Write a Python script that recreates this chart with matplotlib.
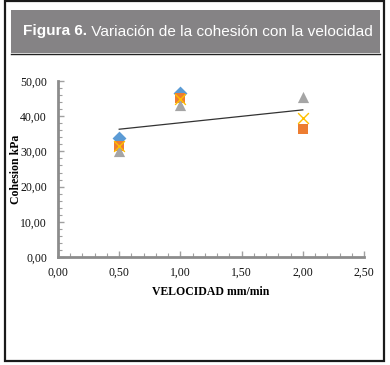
import numpy as np
import matplotlib
matplotlib.use("Agg")
import matplotlib.pyplot as plt
from matplotlib.patches import Rectangle
from matplotlib.ticker import MultipleLocator, FuncFormatter

# ========== 数据 ==========
velocidad = [0.5, 1.0, 2.0]
serie_diamante = [33.9, 46.5, None]
serie_cuadrado = [31.5, 45.1, 36.4]
serie_triangulo = [30.1, 43.2, 45.4]
serie_x = [31.5, 45.0, 39.4]
tendencia_x = [0.5, 2.0]
tendencia_y = [36.3, 41.8]

titulo_bold = "Figura 6."
titulo_resto = " Variación de la cohesión con la velocidad"

SERIF = ["Liberation Serif", "DejaVu Serif"]
SANS = ["Liberation Sans", "DejaVu Sans"]

fig = plt.figure(figsize=(3.9, 3.65), dpi=100)

# --- marco exterior y caja del título ---
fig.patches.append(Rectangle((5 / 390, 4 / 365), 379 / 390, 360 / 365, transform=fig.transFigure,
                             fill=False, edgecolor="#1a1a1a", linewidth=1.6))
fig.patches.append(Rectangle((11 / 390, 1 - 53 / 365), 369 / 390, 43 / 365, transform=fig.transFigure,
                             facecolor="#858385", edgecolor="none"))
fig.lines.append(plt.Line2D([11 / 390, 380 / 390], [1 - 53.5 / 365] * 2, transform=fig.transFigure,
                            color="#222222", linewidth=1.0))
t1 = fig.text(23 / 390, 1 - 31.5 / 365, titulo_bold, color="white", fontsize=11.1,
              fontweight="bold", family=SANS, va="center", ha="left")
fig.canvas.draw()
bb = t1.get_window_extent()
fig.text(bb.x1 / fig.bbox.width, 1 - 31.5 / 365, titulo_resto, color="white", fontsize=11.1,
         family=SANS, va="center", ha="left")

# --- ejes ---
ax = fig.add_axes([58 / 390, 1 - 257 / 365, 306 / 390, 176 / 365])
ax.set_xlim(0, 2.5)
ax.set_ylim(0, 50)

def pts(xs, ys):
    xy = [(x, y) for x, y in zip(xs, ys) if y is not None]
    return [p[0] for p in xy], [p[1] for p in xy]

ax.plot(tendencia_x, tendencia_y, color="#333333", linewidth=0.9, zorder=2)
ax.scatter(*pts(velocidad, serie_diamante), marker="D", s=50, color="#5B9BD5", zorder=3, linewidths=0)
ax.scatter(*pts(velocidad, serie_cuadrado), marker="s", s=60, color="#ED7D31", zorder=4, linewidths=0)
ax.scatter(*pts(velocidad, serie_triangulo), marker="^", s=65, color="#A5A5A5", zorder=5, linewidths=0)
ax.scatter(*pts(velocidad, serie_x), marker="x", s=60, color="#FFC000", zorder=6, linewidths=1.0)

for s in ["top", "right"]:
    ax.spines[s].set_visible(False)
for s in ["left", "bottom"]:
    ax.spines[s].set_color("#8c8c8c")
    ax.spines[s].set_linewidth(2)

ax.xaxis.set_major_locator(MultipleLocator(0.5))
ax.xaxis.set_minor_locator(MultipleLocator(0.1))
ax.yaxis.set_major_locator(MultipleLocator(10))
ax.yaxis.set_minor_locator(MultipleLocator(2))
fmt = FuncFormatter(lambda v, p: f"{v:.2f}".replace(".", ","))
ax.xaxis.set_major_formatter(fmt)
ax.yaxis.set_major_formatter(fmt)
ax.tick_params(which="both", direction="in", color="#a0a0a0", labelsize=8.5, labelcolor="#111111")
ax.tick_params(which="major", length=4, width=1)
ax.tick_params(which="minor", length=3, width=0.8)
ax.tick_params(axis="y", pad=8)
ax.tick_params(axis="x", pad=7)
for lab in ax.get_xticklabels() + ax.get_yticklabels():
    lab.set_family(SERIF)

ax.set_xlabel("VELOCIDAD mm/min", family=SERIF, fontweight="bold", fontsize=8.5, labelpad=5)
ax.set_ylabel("Cohesion kPa", family=SERIF, fontweight="bold", fontsize=8.5)
ax.yaxis.set_label_coords(-36 / 306, 0.5)

plt.savefig("out.png", dpi=100)
plt.close()
